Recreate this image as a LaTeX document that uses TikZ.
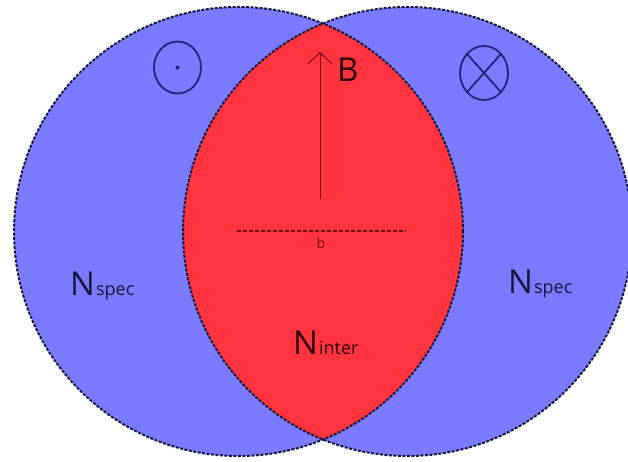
\documentclass[tikz,border=0pt]{standalone}
\usepackage{fontspec}
\setmainfont{Open Sans}
\usetikzlibrary{positioning,arrows.meta}
\definecolor{specblue}{RGB}{123,123,255}
\definecolor{interred}{RGB}{255,52,62}
\definecolor{edgenavy}{RGB}{22,22,60}
\definecolor{symnavy}{RGB}{36,36,120}
\definecolor{fieldred}{RGB}{110,10,15}
\newcommand{\subsz}[1]{{\fontsize{18}{18}\selectfont #1}}

\begin{document}
\begin{tikzpicture}[
        x=1pt, y=1pt,
        rim/.style={draw=edgenavy, line width=2pt, dash pattern=on 3pt off 1.5pt},
        sym/.style={draw=symnavy, line width=1.8pt},
        lbl/.style={inner sep=0pt, font=\fontsize{33}{33}\selectfont}
    ]
        \useasboundingbox (0,0) rectangle (628,461);
        \coordinate (cl) at (238.5,229.5);
        \coordinate (cr) at (407.5,229.5);

        % the two regions and their overlap
        \fill[specblue] (cl) circle (224.5);
        \fill[specblue] (cr) circle (224.5);
        \begin{scope}
            \clip (cl) circle (224.5);
            \fill[interred] (cr) circle (224.5);
        \end{scope}
        \draw[rim] (cl) circle (224.5);
        \draw[rim] (cr) circle (224.5);

        % field direction symbols
        \draw[sym] (177.5,393.5) ellipse (23.5 and 26);
        \fill[symnavy] (177.5,393.5) circle (2);
        \draw[sym] (484,388) ellipse (24 and 27);
        \draw[sym] (484,388) ++(135:24 and 27) -- ++(33.9,-38.2);
        \draw[sym] (484,388) ++(45:24 and 27) -- ++(-33.9,-38.2);

        % field arrow and impact parameter
        \coordinate (bfoot) at (320,262);
        \coordinate (btip) at (320,409);
        \draw[fieldred, line width=1pt, -{Straight Barb[length=11pt,width=24pt]}] (bfoot) -- (btip);
        \node[lbl, anchor=base west, text=fieldred!40!black] (bname) at (337,379) {B};

        \coordinate (bl) at (237,230);
        \coordinate (br) at (406,230);
        \draw[fieldred, line width=1.6pt, dash pattern=on 4pt off 2pt] (bl) -- (br);
        \node[font=\fontsize{14}{14}\selectfont, text=fieldred, below=3pt of bl, anchor=north, xshift=84pt] (bval) {b};

        % nucleon labels
        \node[lbl, anchor=base west, text=edgenavy] (nleft) at (70,166) {N\kern1pt\subsz{spec}};
        \node[lbl, anchor=base west, text=edgenavy] (nright) at (508,168) {N\kern1pt\subsz{spec}};
        \node[lbl, anchor=base west, text=fieldred!40!black] (ninter) at (293,107) {N\kern1pt\subsz{inter}};
    \end{tikzpicture}
\end{document}
